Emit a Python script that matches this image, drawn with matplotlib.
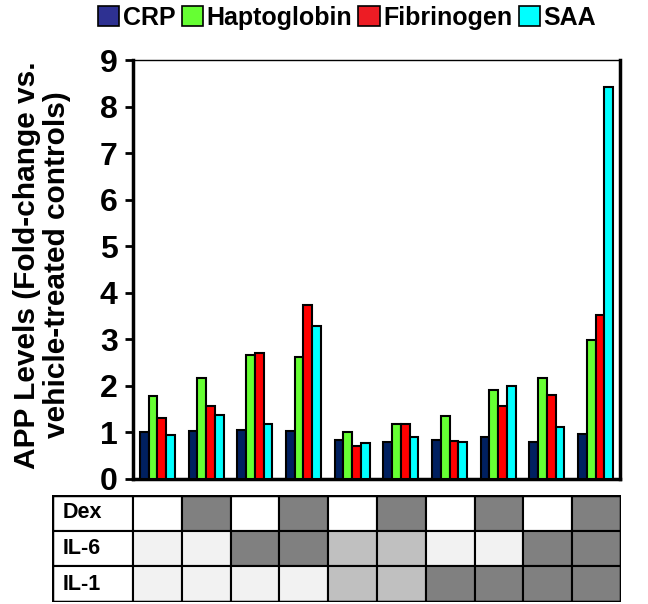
import matplotlib.pyplot as plt
from matplotlib.patches import Rectangle
import numpy as np

plt.rcParams['font.family'] = ['Liberation Sans', 'DejaVu Sans']
plt.rcParams['font.weight'] = 'bold'

# fold-change values for the 10 treatment groups
series_names = ['CRP', 'Haptoglobin', 'Fibrinogen', 'SAA']
crp = [1.00, 1.03, 1.05, 1.03, 0.83, 0.80, 0.83, 0.91, 0.80, 0.97]
haptoglobin = [1.79, 2.16, 2.67, 2.62, 1.01, 1.19, 1.36, 1.91, 2.16, 2.99]
fibrinogen = [1.30, 1.56, 2.71, 3.73, 0.70, 1.19, 0.82, 1.57, 1.80, 3.52]
saa = [0.94, 1.37, 1.19, 3.28, 0.77, 0.91, 0.79, 1.99, 1.11, 8.42]

# treatment table: 0 = none, 1 = low, 2 = high
row_names = ['Dex', 'IL-6', 'IL-1']
dex = [0, 2, 0, 2, 0, 2, 0, 2, 0, 2]
il6 = [0, 0, 2, 2, 1, 1, 0, 0, 2, 2]
il1 = [0, 0, 0, 0, 1, 1, 2, 2, 2, 2]

bar_colors = ['#002060', '#66ff33', '#ff0000', '#00ffff']
legend_colors = ['#2e3192', '#66ff33', '#ed1c24', '#00ffff']

W, H = 648, 604
fig = plt.figure(figsize=(W / 100, H / 100), dpi=100)
ax = fig.add_axes([133 / W, 1 - 479 / H, (620 - 133) / W, (479 - 60) / H])

x = np.arange(len(crp))
width = 0.18
handles = []
for i, vals in enumerate([crp, haptoglobin, fibrinogen, saa]):
    b = ax.bar(x + (i - 1.5) * width, vals, width, color=bar_colors[i],
               edgecolor='black', linewidth=1.5, label=series_names[i], zorder=3)
    handles.append(b)

ax.set_xlim(-0.5, len(crp) - 0.5)
ax.set_ylim(0, 9)
ax.set_yticks(range(10))
ax.set_xticks([])
ax.tick_params(axis='y', labelsize=23, width=2, length=6, pad=5)
for lab in ax.get_yticklabels():
    lab.set_fontweight('bold')
ax.spines['left'].set_linewidth(2.5)
ax.spines['bottom'].set_linewidth(2.5)
ax.spines['right'].set_linewidth(2.5)
ax.spines['top'].set_linewidth(1)

fig.text(42 / W, 1 - 265 / H, 'APP Levels (Fold-change vs.\nvehicle-treated controls)',
         rotation=90, ha='center', va='center', multialignment='center',
         fontsize=21.5, fontweight='bold', linespacing=1.1)

leg = fig.legend(handles=handles, loc='center', bbox_to_anchor=(347 / W, 1 - 18 / H),
                 ncol=4, frameon=False, fontsize=18, handlelength=0.85, handleheight=0.85,
                 handletextpad=0.15, columnspacing=0.25, borderaxespad=0)
for h, c in zip(leg.legend_handles, legend_colors):
    h.set_facecolor(c)
    h.set_linewidth(1.2)
for t in leg.get_texts():
    t.set_fontweight('bold')

# treatment table below the chart
tax = fig.add_axes([52 / W, 1 - 602 / H, (621 - 52) / W, (602 - 495) / H])
label_w = (133 - 52) / (621 - 133) * len(crp)
tax.set_xlim(-label_w, len(crp))
tax.set_ylim(len(row_names), 0)
tax.axis('off')
shades = {0: '#f2f2f2', 1: '#c0c0c0', 2: '#808080'}
for r, (name, levels) in enumerate(zip(row_names, [dex, il6, il1])):
    tax.add_patch(Rectangle((-label_w, r), label_w, 1, facecolor='white',
                            edgecolor='black', linewidth=1.5))
    tax.text(-label_w + 0.22, r + 0.5, name, ha='left', va='center',
             fontsize=15.5, fontweight='bold')
    for c, lev in enumerate(levels):
        fc = shades[lev]
        if name == 'Dex' and lev == 0:
            fc = 'white'
        tax.add_patch(Rectangle((c, r), 1, 1, facecolor=fc,
                                edgecolor='black', linewidth=1.5))
tax.add_patch(Rectangle((-label_w, 0), label_w + len(crp), len(row_names),
                        fill=False, edgecolor='black', linewidth=2.5))

fig.savefig('out.png', dpi=100)
